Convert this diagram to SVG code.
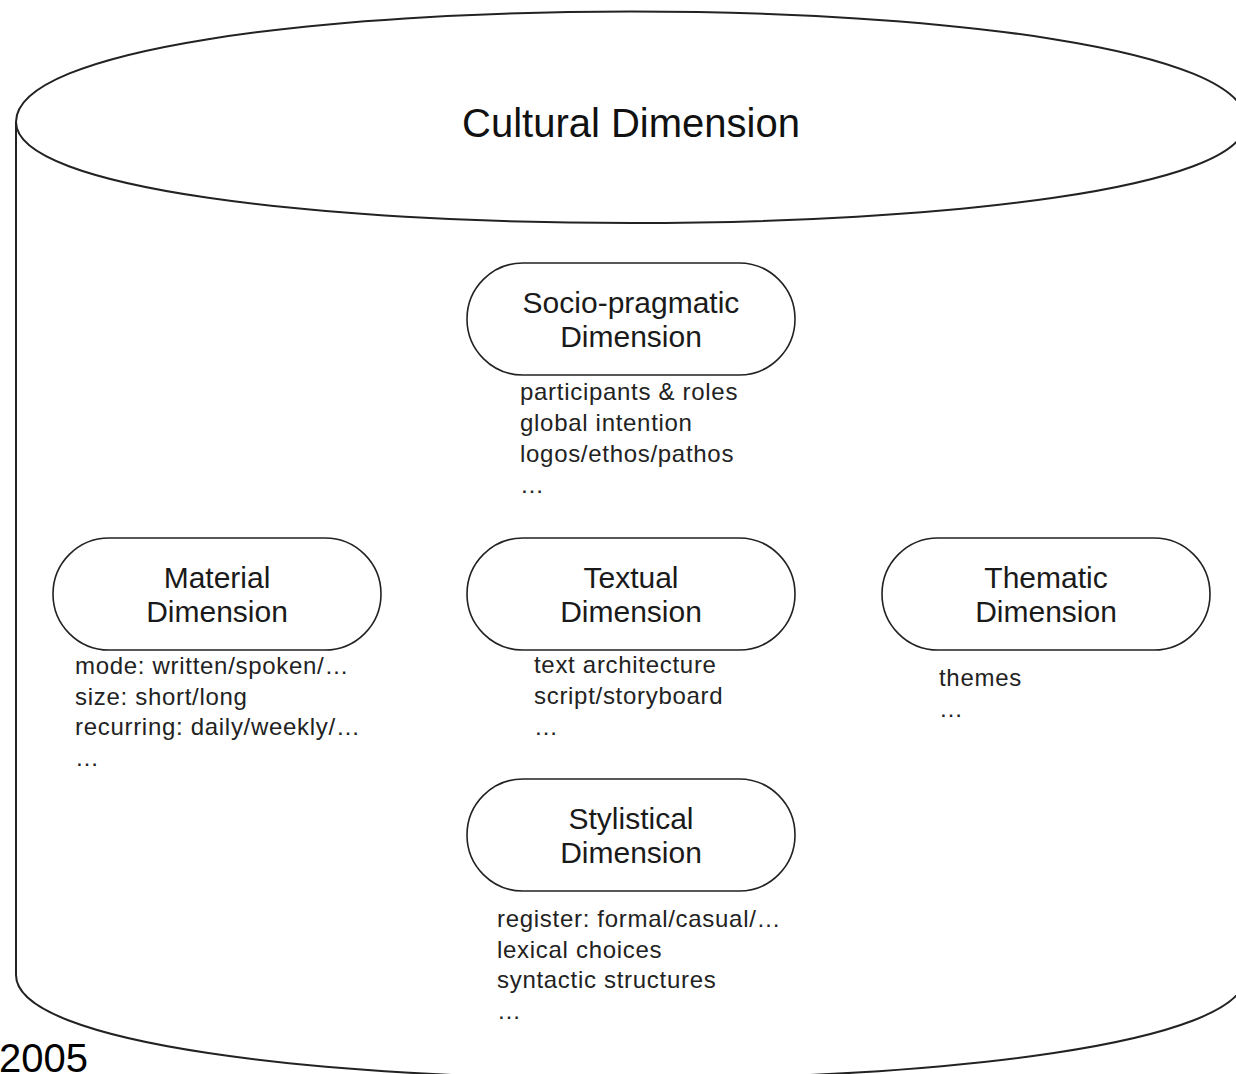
<svg xmlns="http://www.w3.org/2000/svg" width="1236" height="1074" viewBox="0 0 1236 1074">
<style>
.shape{fill:#fff;stroke:#222;stroke-width:2}
.pill{fill:#fff;stroke:#222;stroke-width:1.6}
.lbl{font-family:"Liberation Sans",Arial,sans-serif;font-size:30px;fill:#1a1a1a;text-anchor:middle}
.title{font-family:"Liberation Sans",Arial,sans-serif;font-size:40px;fill:#111;text-anchor:middle}
.note{font-family:"Liberation Sans",Arial,sans-serif;font-size:24px;fill:#222;letter-spacing:0.7px}
.yr{font-family:"Liberation Sans",Arial,sans-serif;font-size:40px;fill:#000}
</style>
<rect width="1236" height="1074" fill="#fff"/>
<g id="cultural-dimension">
<path class="shape" d="M16,122 C16,-25.3 1246,-25.3 1246,122 L1246,975 C1246,1113.7 16,1113.7 16,975 Z"/>
<path class="shape" fill="none" d="M16,122 C16,256.7 1246,256.7 1246,122"/>
<text class="title" x="631" y="137">Cultural Dimension</text>
</g>
<g id="socio-pragmatic">
<rect class="pill" x="467" y="263" width="328" height="112" rx="56" ry="56"/>
<text class="lbl" x="631" y="313">Socio-pragmatic</text>
<text class="lbl" x="631" y="347">Dimension</text>
<text class="note" x="520" y="400">participants &amp; roles</text>
<text class="note" x="520" y="431">global intention</text>
<text class="note" x="520" y="462">logos/ethos/pathos</text>
<text class="note" x="520" y="493">…</text>
</g>
<g id="material">
<rect class="pill" x="53" y="538" width="328" height="112" rx="56" ry="56"/>
<text class="lbl" x="217" y="588">Material</text>
<text class="lbl" x="217" y="622">Dimension</text>
<text class="note" x="75" y="674">mode: written/spoken/…</text>
<text class="note" x="75" y="705">size: short/long</text>
<text class="note" x="75" y="735">recurring: daily/weekly/…</text>
<text class="note" x="75" y="766">…</text>
</g>
<g id="textual">
<rect class="pill" x="467" y="538" width="328" height="112" rx="56" ry="56"/>
<text class="lbl" x="631" y="588">Textual</text>
<text class="lbl" x="631" y="622">Dimension</text>
<text class="note" x="534" y="673">text architecture</text>
<text class="note" x="534" y="704">script/storyboard</text>
<text class="note" x="534" y="735">…</text>
</g>
<g id="thematic">
<rect class="pill" x="882" y="538" width="328" height="112" rx="56" ry="56"/>
<text class="lbl" x="1046" y="588">Thematic</text>
<text class="lbl" x="1046" y="622">Dimension</text>
<text class="note" x="939" y="686">themes</text>
<text class="note" x="939" y="717">…</text>
</g>
<g id="stylistical">
<rect class="pill" x="467" y="779" width="328" height="112" rx="56" ry="56"/>
<text class="lbl" x="631" y="829">Stylistical</text>
<text class="lbl" x="631" y="863">Dimension</text>
<text class="note" x="497" y="927">register: formal/casual/…</text>
<text class="note" x="497" y="958">lexical choices</text>
<text class="note" x="497" y="988">syntactic structures</text>
<text class="note" x="497" y="1019">…</text>
</g>
<g id="connectors"></g>
<text class="yr" x="-1" y="1072">2005</text>
</svg>
